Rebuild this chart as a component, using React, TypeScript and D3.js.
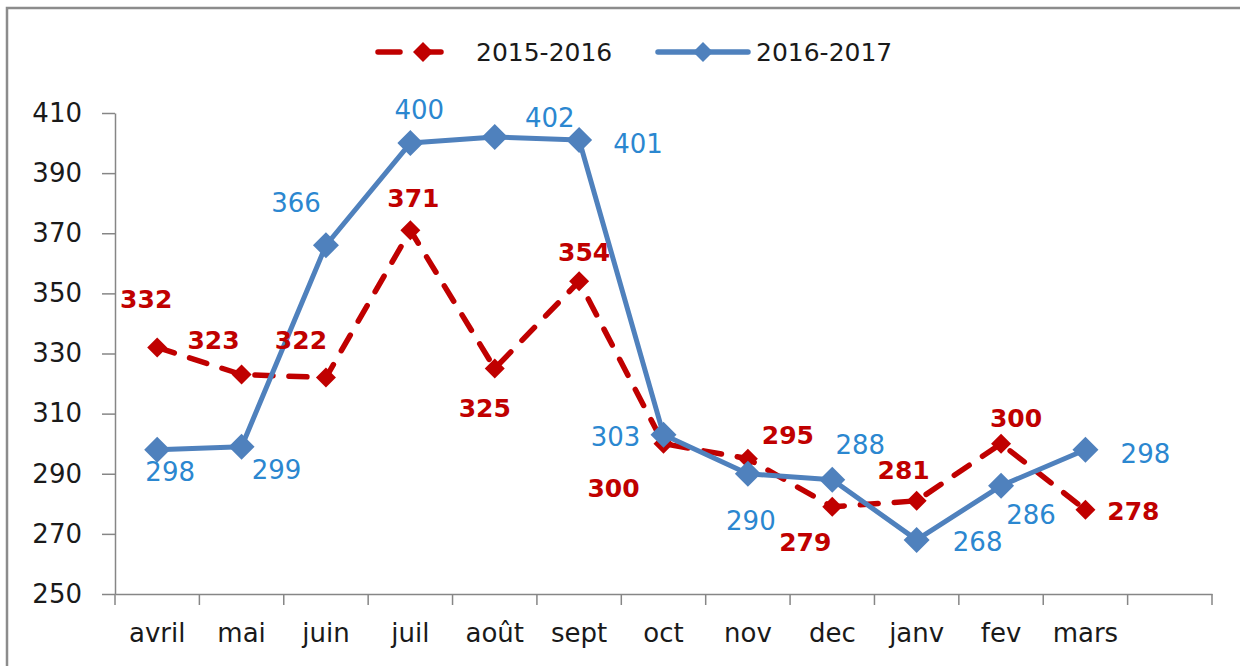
import { useEffect, useRef } from "react"
import * as d3 from "d3"

const months = ["avril", "mai", "juin", "juil", "août", "sept", "oct", "nov", "dec", "janv", "fev", "mars"]
const values1516 = [332, 323, 322, 371, 325, 354, 300, 295, 279, 281, 300, 278]
const values1617 = [298, 299, 366, 400, 402, 401, 303, 290, 288, 268, 286, 298]
const yTicks = [250, 270, 290, 310, 330, 350, 370, 390, 410]
const seriesNames = ["2015-2016", "2016-2017"]

// label offsets (dx, dy) from each marker, as placed in the original
const labelOffsets1516 = [[-11, -48], [-28, -34], [-25, -37], [3, -32], [-10, 40], [5, -29], [-50, 45], [40, -23], [-27, 36], [-13, -30], [15, -25], [48, 2]]
const labelOffsets1617 = [[13, 22], [35, 23], [-30, -42], [9, -33], [55, -19], [59, 4], [-48, 2], [3, 47], [28, -35], [61, 2], [30, 29], [60, 4]]

const RED = "#C00000"
const BLUE = "#4F81BD"
const BLUE_TEXT = "#2B87D0"
const FONT = "'DejaVu Sans', sans-serif"

export default function App() {
    const svgRef = useRef<SVGSVGElement | null>(null)
    const width = 1240
    const height = 666

    useEffect(() => {
        if (!svgRef.current) return
        const svg = d3.select(svgRef.current)
        svg.selectAll("*").remove()

        const margin = { top: 113, right: 28, bottom: 72, left: 115 }

        // frame
        svg.append("rect")
            .attr("x", 7).attr("y", 8)
            .attr("width", width).attr("height", height)
            .attr("fill", "white")
            .attr("stroke", "#8c8c8c")
            .attr("stroke-width", 2.5)

        // 13 slots: the last one stays empty like in the original
        const x = d3.scaleBand<string>()
            .domain([...months, ""])
            .range([margin.left, width - margin.right])
            .padding(0)

        const y = d3.scaleLinear()
            .domain([250, 410])
            .range([height - margin.bottom, margin.top])

        const cx = (m: string) => x(m)! + x.bandwidth() / 2

        // y axis
        const yAxis = svg.append("g")
            .attr("transform", `translate(${margin.left},0)`)
            .call(d3.axisLeft(y).tickValues(yTicks).tickSize(13).tickSizeOuter(0).tickPadding(20).tickFormat(d3.format("d")))
        yAxis.select(".domain").attr("stroke", "#868686").attr("stroke-width", 1.5)
        yAxis.selectAll(".tick line").attr("stroke", "#868686").attr("stroke-width", 1.5)
        yAxis.selectAll(".tick text")
            .attr("font-family", FONT).attr("font-size", 26).attr("fill", "#1a1a1a")

        // x axis
        const xAxis = svg.append("g")
            .attr("transform", `translate(0,${y(250)})`)
            .call(d3.axisBottom(x).tickSize(0).tickSizeOuter(0).tickPadding(30))
        xAxis.select(".domain").attr("stroke", "#868686").attr("stroke-width", 1.5)
        xAxis.selectAll(".tick text")
            .attr("font-family", FONT).attr("font-size", 26).attr("fill", "#1a1a1a")
        const bounds = [...x.domain().map((d) => x(d)!), x.range()[1]]
        xAxis.selectAll("line.sep")
            .data(bounds)
            .enter()
            .append("line")
            .attr("class", "sep")
            .attr("x1", (d) => d).attr("x2", (d) => d)
            .attr("y1", 0).attr("y2", 11)
            .attr("stroke", "#868686").attr("stroke-width", 1.5)

        const line = d3.line<number>()
            .x((_, i) => cx(months[i]))
            .y((d) => y(d))

        const diamond = (half: number) => d3.symbol().type(d3.symbolSquare).size(2 * half * half)()

        // 2015-2016
        svg.append("path")
            .datum(values1516)
            .attr("d", line)
            .attr("fill", "none")
            .attr("stroke", RED)
            .attr("stroke-width", 5.5)
            .attr("stroke-linecap", "round")
            .attr("stroke-dasharray", "18 16")

        svg.selectAll("path.m1")
            .data(values1516)
            .enter()
            .append("path")
            .attr("class", "m1")
            .attr("d", diamond(10))
            .attr("transform", (d, i) => `translate(${cx(months[i])},${y(d)}) rotate(45)`)
            .attr("fill", RED)

        // 2016-2017
        svg.append("path")
            .datum(values1617)
            .attr("d", line)
            .attr("fill", "none")
            .attr("stroke", BLUE)
            .attr("stroke-width", 5)
            .attr("stroke-linejoin", "round")

        svg.selectAll("path.m2")
            .data(values1617)
            .enter()
            .append("path")
            .attr("class", "m2")
            .attr("d", diamond(13))
            .attr("transform", (d, i) => `translate(${cx(months[i])},${y(d)}) rotate(45)`)
            .attr("fill", BLUE)

        // data labels
        svg.selectAll("text.l1")
            .data(values1516)
            .enter()
            .append("text")
            .attr("class", "l1")
            .attr("x", (d, i) => cx(months[i]) + labelOffsets1516[i][0])
            .attr("y", (d, i) => y(d) + labelOffsets1516[i][1])
            .attr("text-anchor", "middle")
            .attr("dominant-baseline", "central")
            .attr("font-family", FONT)
            .attr("font-weight", "bold")
            .attr("font-size", 25)
            .attr("fill", RED)
            .text((d) => d)

        svg.selectAll("text.l2")
            .data(values1617)
            .enter()
            .append("text")
            .attr("class", "l2")
            .attr("x", (d, i) => cx(months[i]) + labelOffsets1617[i][0])
            .attr("y", (d, i) => y(d) + labelOffsets1617[i][1])
            .attr("text-anchor", "middle")
            .attr("dominant-baseline", "central")
            .attr("font-family", FONT)
            .attr("font-size", 26)
            .attr("fill", BLUE_TEXT)
            .text((d) => d)

        // legend
        const legend = svg.append("g").attr("transform", "translate(0,52)")
        legend.append("line")
            .attr("x1", 378).attr("x2", 448).attr("y1", 0).attr("y2", 0)
            .attr("stroke", RED).attr("stroke-width", 5.5)
            .attr("stroke-linecap", "round")
            .attr("stroke-dasharray", "22 19")
        legend.append("path")
            .attr("d", diamond(10))
            .attr("transform", "translate(423,0) rotate(45)")
            .attr("fill", RED)
        legend.append("text")
            .attr("x", 476).attr("y", 0)
            .attr("dominant-baseline", "central")
            .attr("font-family", FONT).attr("font-size", 25).attr("fill", "#1a1a1a")
            .text(seriesNames[0])

        legend.append("line")
            .attr("x1", 658).attr("x2", 748).attr("y1", 0).attr("y2", 0)
            .attr("stroke", BLUE).attr("stroke-width", 5.5)
            .attr("stroke-linecap", "round")
        legend.append("path")
            .attr("d", diamond(10))
            .attr("transform", "translate(703,0) rotate(45)")
            .attr("fill", BLUE)
        legend.append("text")
            .attr("x", 756).attr("y", 0)
            .attr("dominant-baseline", "central")
            .attr("font-family", FONT).attr("font-size", 25).attr("fill", "#1a1a1a")
            .text(seriesNames[1])
    }, [])

    return (
        <svg
            ref={svgRef}
            width={width}
            height={height}
            style={{ position: "absolute", left: 0, top: 0, background: "white" }}
        />
    )
}
